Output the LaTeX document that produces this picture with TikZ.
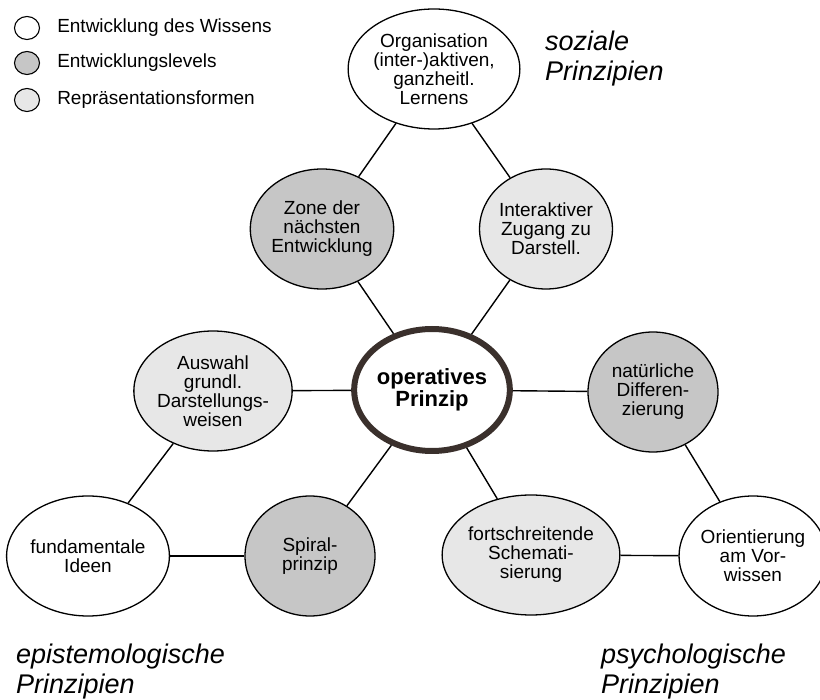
\documentclass[tikz,border=0pt]{standalone}
\usepackage{fontspec}
\setmainfont{Liberation Sans}
\usetikzlibrary{shapes.geometric,positioning}
\definecolor{levelgray}{RGB}{198,198,198}
\definecolor{reprgray}{RGB}{231,231,231}
\definecolor{ringbrown}{RGB}{58,48,44}

\begin{document}
\begin{tikzpicture}[x=1pt,y=-1pt,
  bubble/.style={ellipse,draw,line width=1.3pt,minimum width=130pt,minimum height=120pt,
    inner sep=0pt,align=center,font=\fontsize{19}{19}\selectfont},
  wissen/.style={bubble,fill=white},
  level/.style={bubble,fill=levelgray},
  repr/.style={bubble,fill=reprgray},
  keydot/.style={ellipse,draw,line width=1.1pt,minimum width=25pt,minimum height=23pt,inner sep=0pt},
  keytext/.style={inner sep=0pt,font=\fontsize{19}{19}\selectfont},
  corner/.style={inner sep=0pt,align=left,font=\itshape\fontsize{27}{29.5}\selectfont},
  link/.style={line width=1.4pt}]
  \useasboundingbox (0,0) rectangle (820,700);

  % legend
  \foreach \y/\s/\t [count=\i] in {28/white/Entwicklung des Wissens,
                                  63/levelgray/Entwicklungslevels,
                                  100/reprgray/Repräsentationsformen}
    {\node [keydot,fill=\s] (key\i) at (27,\y) {};
     \node [keytext,right=17pt of key\i] (keytxt\i) {\t};}

  % the three corners
  \node [wissen] (org)   at (434,69)  {Organisation\\(inter-)aktiven,\\ganzheitl.\\Lernens};
  \node [wissen] (fund)  at (88,556)  {fundamentale\\Ideen};
  \node [wissen] (orient) at (753,556) {Orientierung\\am Vor-\\wissen};

  \node [level] (zone)   at (322,229) {Zone der\\nächsten\\Entwicklung};
  \node [repr]  (inter)  at (546,229) {Interaktiver\\Zugang zu\\Darstell.};
  \node [repr]  (ausw)   at (213,391) {Auswahl\\grundl.\\Darstellungs-\\weisen};
  \node [level] (nat)    at (653,392) {natürliche\\Differen-\\zierung};
  \node [level] (spiral) at (310,556) {Spiral-\\prinzip};
  \node [repr]  (fort)   at (531,555) {fortschreitende\\Schemati-\\sierung};

  \node [ellipse,draw=ringbrown,line width=6pt,fill=white,minimum width=128pt,
    minimum height=122pt,inner sep=0pt,align=center,
    font=\bfseries\fontsize{22}{22}\selectfont] (op) at (432,390) {operatives\\Prinzip};

  \foreach \a/\b in {org/zone,org/inter,zone/op,inter/op,op/ausw,op/nat,
                     ausw/fund,fund/spiral,spiral/op,op/fort,fort/orient,nat/orient}
    \draw [link] (\a) -- (\b);

  \node [corner,anchor=north west] (soz)   at (545,31)  {soziale\\Prinzipien};
  \node [corner,anchor=north west] (epist) at (16,644)  {epistemologische\\Prinzipien};
  \node [corner,anchor=north west] (psych) at (601,644) {psychologische\\Prinzipien};
\end{tikzpicture}
\end{document}
